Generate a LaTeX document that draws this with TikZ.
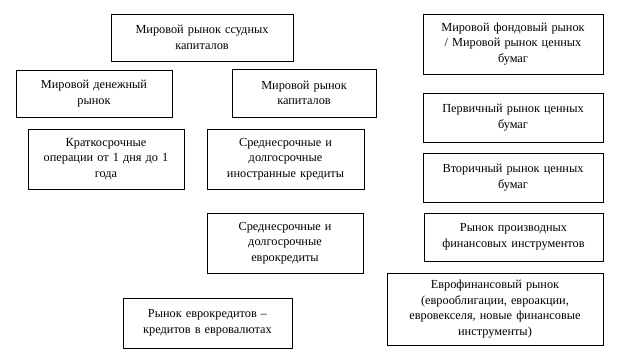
\documentclass[tikz,border=0pt]{standalone}
\usepackage{fontspec}
\setmainfont{Liberation Serif}
\begin{document}
\begin{tikzpicture}[x=1pt,y=-1pt,
  bx/.style={draw=black,line width=1pt,fill=white,align=center,inner sep=0pt,
    font=\fontsize{12.3}{15.5}\selectfont}]
\useasboundingbox (0,0) rectangle (619,356);
\newcommand{\bxat}[6]{\node[bx,minimum width=#3-#1,minimum height=#4-#2,text width=#3-#1-4] (#5) at ({(#1+#3)/2},{(#2+#4)/2}) {#6};}
\bxat{111}{14}{293}{61}{ssud}{Мировой рынок ссудных\\капиталов}
\bxat{16}{70}{172}{117}{den}{Мировой денежный\\рынок}
\bxat{232}{69}{376}{117}{kap}{Мировой рынок\\капиталов}
\bxat{28}{129}{184}{189}{krat}{Краткосрочные\\операции от 1 дня до 1\\года}
\bxat{207}{129}{364}{189}{inos}{Среднесрочные и\\долгосрочные\\иностранные кредиты}
\bxat{207}{213}{363}{273}{evrk}{Среднесрочные и\\долгосрочные\\еврокредиты}
\bxat{123}{298}{292}{348}{ryev}{Рынок еврокредитов –\\кредитов в евровалютах}
\bxat{423}{14}{603}{74}{fond}{Мировой фондовый рынок\\/ Мировой рынок ценных\\бумаг}
\bxat{423}{93}{603}{142}{perv}{Первичный рынок ценных\\бумаг}
\bxat{423}{153}{603}{202}{vtor}{Вторичный рынок ценных\\бумаг}
\bxat{424}{213}{603}{261}{proiz}{Рынок производных\\финансовых инструментов}
\bxat{387}{273}{603}{345}{evrf}{Еврофинансовый рынок\\(еврооблигации, евроакции,\\евровекселя, новые финансовые\\инструменты)}
\end{tikzpicture}
\end{document}
